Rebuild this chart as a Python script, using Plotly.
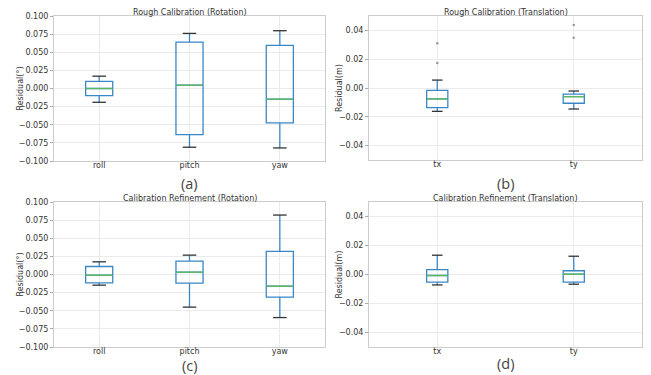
import plotly.graph_objects as go

# ---- data ----
rot_cats = ["roll", "pitch", "yaw"]
trans_cats = ["tx", "ty"]

# Rough calibration (rotation)
a_low = [-0.019, -0.081, -0.082]
a_q1 = [-0.0097, -0.0636, -0.0475]
a_med = [0.0, 0.0046, -0.0147]
a_q3 = [0.0097, 0.064, 0.0594]
a_high = [0.017, 0.076, 0.0797]

# Rough calibration (translation)
b_low = [-0.0162, -0.0146]
b_q1 = [-0.0136, -0.0106]
b_med = [-0.0076, -0.006]
b_q3 = [-0.0016, -0.0042]
b_high = [0.0055, -0.0021]
b_out = [[0.031, 0.0173], [0.0437, 0.0349]]

# Calibration refinement (rotation)
c_low = [-0.0147, -0.045, -0.0594]
c_q1 = [-0.0115, -0.012, -0.0313]
c_med = [-0.001, 0.0032, -0.0161]
c_q3 = [0.011, 0.0184, 0.0318]
c_high = [0.0175, 0.0267, 0.082]

# Calibration refinement (translation)
d_low = [-0.0072, -0.0067]
d_q1 = [-0.0053, -0.0053]
d_med = [-0.0007, 0.0002]
d_q3 = [0.0033, 0.0026]
d_high = [0.0133, 0.0126]

titles = ["Rough Calibration (Rotation)", "Rough Calibration (Translation)",
          "Calibration Refinement (Rotation)", "Calibration Refinement (Translation)"]
panel_labels = ["(a)", "(b)", "(c)", "(d)"]
y_titles = ["Residual(°)", "Residual(m)", "Residual(°)", "Residual(m)"]

# ---- style ----
OFF = 8                      # page body margin of the browser
W, H = 651 - OFF, 375 - OFF  # figure size so it fits the window
BLUE = "#3a87c6"
GREEN = "#5cb85c"
CAP = "#333333"
GRID = "#ebebeb"
FRAME = "#cccccc"
FONT = "DejaVu Sans"
TXT = "#333333"

def px_x(p):
    return (p - OFF) / W

def px_y(p):
    return 1 - (p - OFF) / H

panels = [
    dict(cats=rot_cats, low=a_low, q1=a_q1, med=a_med, q3=a_q3, high=a_high, out=None,
         xd=[px_x(54), px_x(325)], yd=[px_y(161), px_y(16)], width=0.3,
         rng=[-0.1, 0.1], dtick=0.025, fmt=".3f", ytx=20, tty=12, lab_y=183),
    dict(cats=trans_cats, low=b_low, q1=b_q1, med=b_med, q3=b_q3, high=b_high, out=b_out,
         xd=[px_x(369), px_x(642)], yd=[px_y(160), px_y(16)], width=0.155,
         rng=[-0.05, 0.05], dtick=0.02, fmt=".2f", ytx=339, tty=12, lab_y=183),
    dict(cats=rot_cats, low=c_low, q1=c_q1, med=c_med, q3=c_q3, high=c_high, out=None,
         xd=[px_x(54), px_x(325)], yd=[px_y(347), px_y(202)], width=0.3,
         rng=[-0.1, 0.1], dtick=0.025, fmt=".3f", ytx=20, tty=198, lab_y=365.5),
    dict(cats=trans_cats, low=d_low, q1=d_q1, med=d_med, q3=d_q3, high=d_high, out=None,
         xd=[px_x(369), px_x(642)], yd=[px_y(347), px_y(202)], width=0.155,
         rng=[-0.05, 0.05], dtick=0.02, fmt=".2f", ytx=339, tty=198, lab_y=363),
]

fig = go.Figure()
layout = dict(width=W, height=H, margin=dict(l=0, r=0, t=0, b=0, autoexpand=False),
              paper_bgcolor="white", plot_bgcolor="white", showlegend=False,
              font=dict(family=FONT, size=8, color=TXT))
annotations = []

for k, p in enumerate(panels):
    ax = "" if k == 0 else str(k + 1)
    xref, yref = "x" + ax, "y" + ax
    n = len(p["cats"])
    xs = list(range(n))
    w = p["width"]
    fig.add_trace(go.Box(
        x=xs, q1=p["q1"], median=p["med"], q3=p["q3"],
        lowerfence=p["low"], upperfence=p["high"],
        width=w, whiskerwidth=0, line=dict(color=BLUE, width=1.3),
        fillcolor="rgba(0,0,0,0)", boxpoints=False, hoverinfo="skip",
        xaxis=xref, yaxis=yref))
    # median lines and whisker caps
    for i in xs:
        fig.add_trace(go.Scatter(
            x=[i - w / 2, i + w / 2], y=[p["med"][i]] * 2, mode="lines",
            line=dict(color=GREEN, width=1.3), xaxis=xref, yaxis=yref, hoverinfo="skip"))
        for v in (p["low"][i], p["high"][i]):
            fig.add_trace(go.Scatter(
                x=[i - w / 4, i + w / 4], y=[v, v], mode="lines",
                line=dict(color=CAP, width=1.3), xaxis=xref, yaxis=yref, hoverinfo="skip"))
    if p["out"]:
        for i, vals in enumerate(p["out"]):
            fig.add_trace(go.Scatter(
                x=[i] * len(vals), y=vals, mode="markers",
                marker=dict(color="#999999", size=2.5), xaxis=xref, yaxis=yref,
                hoverinfo="skip"))
    layout["xaxis" + ax] = dict(
        domain=p["xd"], anchor=yref, range=[-0.5, n - 0.5], automargin=False,
        tickvals=xs, ticktext=p["cats"], showgrid=True, gridcolor=GRID, gridwidth=1,
        showline=True, linecolor=FRAME, linewidth=1, mirror=True, zeroline=False,
        ticks="", ticklabelstandoff=-4, tickfont=dict(size=8, color=TXT))
    layout["yaxis" + ax] = dict(
        domain=p["yd"], anchor=xref, range=p["rng"], dtick=p["dtick"], tick0=0,
        automargin=False,
        tickformat=p["fmt"], showgrid=True, gridcolor=GRID, gridwidth=1,
        showline=True, linecolor=FRAME, linewidth=1, mirror=True, zeroline=False,
        ticks="outside", ticklen=3, tickcolor="#aaaaaa",
        tickfont=dict(size=8, color=TXT))
    xc = (p["xd"][0] + p["xd"][1]) / 2
    annotations.append(dict(text=titles[k], x=xc, y=px_y(p["tty"]), xref="paper", yref="paper",
                            xanchor="center", yanchor="middle", borderpad=0, showarrow=False,
                            font=dict(size=8, color=TXT)))
    annotations.append(dict(text=y_titles[k], x=px_x(p["ytx"]), y=(p["yd"][0] + p["yd"][1]) / 2,
                            xref="paper", yref="paper", xanchor="center", yanchor="middle",
                            textangle=-90, borderpad=0, showarrow=False,
                            font=dict(size=8, color=TXT)))
    annotations.append(dict(text=panel_labels[k], x=xc, y=px_y(p["lab_y"]), xref="paper",
                            yref="paper", xanchor="center", yanchor="middle", borderpad=0,
                            showarrow=False,
                            font=dict(family="Open Sans", size=14.5, color="#444444")))

layout["annotations"] = annotations
fig.update_layout(**layout)
fig.write_html("out.html")
